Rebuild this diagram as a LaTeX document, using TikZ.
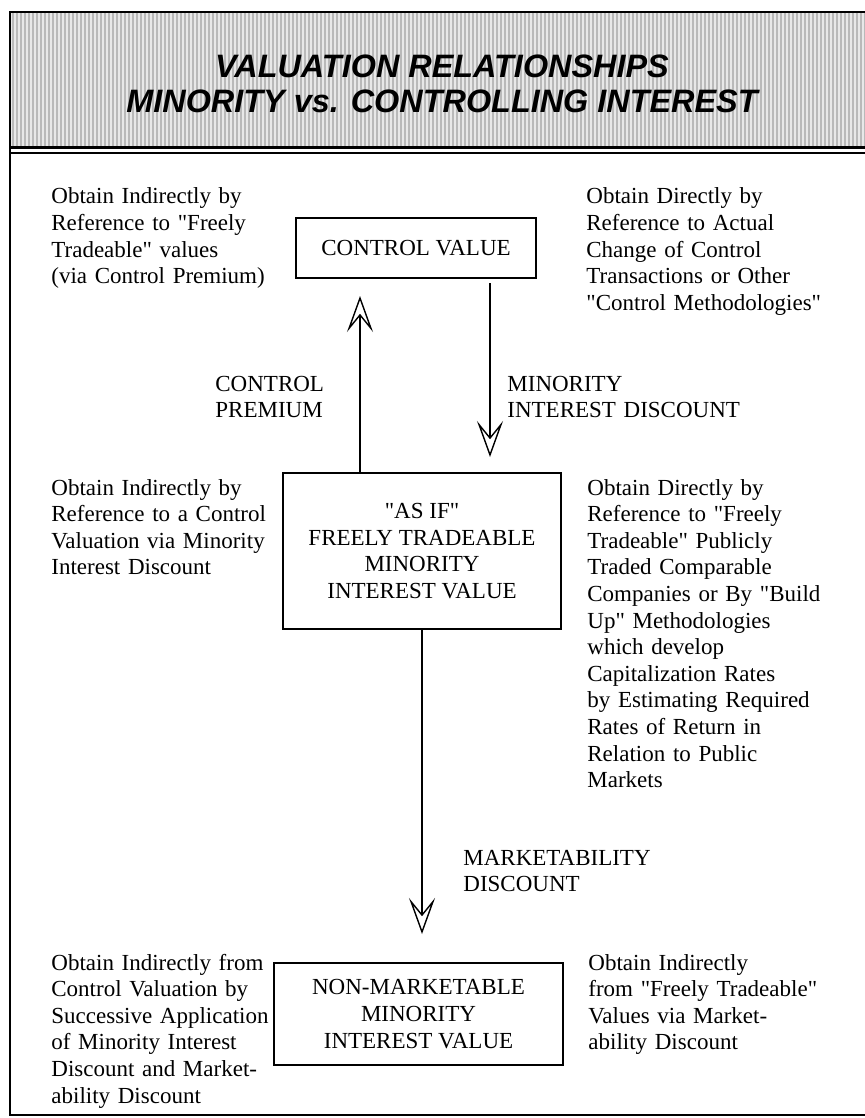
\documentclass[tikz,border=0pt]{standalone}
\usepackage{fontspec}
\setmainfont{Liberation Serif}[Ligatures=TeXOff]
\newfontfamily\headfont{Liberation Sans}
\usetikzlibrary{arrows.meta}
\begin{document}
\begin{tikzpicture}[x=0.5pt,y=-0.5pt,
  sidetxt/.style={inner sep=0pt,anchor=base west,text width=125pt,align=left,font=\fontsize{11.5}{13.3}\selectfont},
  valbox/.style={draw,line width=1pt,inner sep=0pt,align=center,font=\fontsize{11.5}{13.3}\selectfont},
  arrlbl/.style={inner sep=0pt,anchor=base west,text width=125pt,align=left,font=\fontsize{11.5}{13.3}\selectfont},
  valarrow/.style={-{Stealth[open,length=18pt,width=13pt,inset=8pt]},line width=0.7pt}]
  \useasboundingbox (0,0) rectangle (865,1118);
  \fill[gray!18] (10,12) rectangle (865,147);
  \foreach \x in {13,17,...,865} \draw[gray!55,line width=0.7pt] (\x,13) -- (\x,146);
  \draw[line width=1pt] (865,12) -- (10,12) -- (10,1115) -- (865,1115);
  \draw[line width=1.5pt] (10,147.5) -- (865,147.5);
  \draw[line width=0.8pt] (10,153) -- (865,153);
  \node[inner sep=0pt,align=center,font=\headfont\bfseries\itshape\fontsize{16.2}{17.5}\selectfont] (title) at (442,84) {VALUATION RELATIONSHIPS\\MINORITY vs. CONTROLLING INTEREST};

  \node[valbox,minimum width=120pt,minimum height=30pt] (ctrl) at (416,248) {CONTROL VALUE};
  \node[valbox,minimum width=139pt,minimum height=78pt] (asif) at (422,551) {"AS IF"\\FREELY TRADEABLE\\MINORITY\\INTEREST VALUE};
  \node[valbox,minimum width=144.5pt,minimum height=51pt] (nonmkt) at (418.5,1014) {NON-MARKETABLE\\MINORITY\\INTEREST VALUE};

  \node[sidetxt] (ctrlL) at (51,204) {Obtain Indirectly by\\Reference to "Freely\\Tradeable" values\\(via Control Premium)};
  \node[sidetxt] (ctrlR) at (586,204) {Obtain Directly by\\Reference to Actual\\Change of Control\\Transactions or Other\\"Control Methodologies"};
  \node[sidetxt] (asifL) at (51,495) {Obtain Indirectly by\\Reference to a Control\\Valuation via Minority\\Interest Discount};
  \node[sidetxt] (asifR) at (587,495) {Obtain Directly by\\Reference to "Freely\\Tradeable" Publicly\\Traded Comparable\\Companies or By "Build\\Up" Methodologies\\which develop\\Capitalization Rates\\by Estimating Required\\Rates of Return in\\Relation to Public\\Markets};
  \node[sidetxt] (nonmktL) at (51,970) {Obtain Indirectly from\\Control Valuation by\\Successive Application\\of Minority Interest\\Discount and Market-\\ability Discount};
  \node[sidetxt] (nonmktR) at (588,970) {Obtain Indirectly\\from "Freely Tradeable"\\Values via Market-\\ability Discount};

  \coordinate (upx) at (360,0);
  \coordinate (downx) at (490,0);
  \draw[valarrow,shorten >=8.5pt] (upx |- asif.north) -- (upx |- ctrl.south);
  \draw[valarrow,shorten <=2pt,shorten >=7.5pt] (downx |- ctrl.south) -- (downx |- asif.north);
  \draw[valarrow,shorten >=14pt] (asif.south) -- (asif.south |- nonmkt.north);

  \node[arrlbl] (premlbl) at (215,391) {CONTROL\\PREMIUM};
  \node[arrlbl] (disclbl) at (507,391) {MINORITY\\INTEREST DISCOUNT};
  \node[arrlbl] (mktlbl) at (463,865) {MARKETABILITY\\DISCOUNT};
\end{tikzpicture}
\end{document}
